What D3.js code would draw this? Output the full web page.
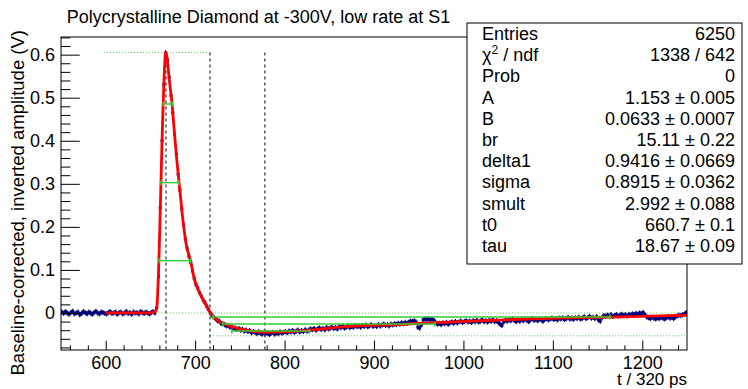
<!DOCTYPE html>
<html><head><meta charset="utf-8">
<script src="https://cdnjs.cloudflare.com/ajax/libs/d3/7.8.5/d3.min.js"></script>
<style>
html,body{margin:0;padding:0;background:#fff;}
svg{display:block;font-family:"Liberation Sans",Arial,Helvetica,sans-serif;}
</style></head><body>
<svg id="c" width="748" height="389"></svg>
<script>
// ---------------- data ----------------
const titleText = "Polycrystalline Diamond at -300V, low rate at S1";
const xTitle = "t / 320 ps";
const yTitle = "Baseline-corrected, inverted amplitude (V)";
const xTicks = [600, 700, 800, 900, 1000, 1100, 1200];
const yTicks = [0, 0.1, 0.2, 0.3, 0.4, 0.5, 0.6];
const binStart = 550, binWidth = 2;
// histogram contents (V), one per 2-unit bin from 550 to 1250
const dataValues = [
  // 551..599
  0.002,-0.001,0.003,0.000,-0.003,0.001,0.004,-0.002,0.000,0.002,-0.004,-0.001,0.003,0.001,-0.002,0.002,0.000,-0.003,0.001,0.004,0.000,-0.002,0.002,0.001,-0.001,
  // 601..655
  -0.002,0.001,0.003,-0.001,0.000,0.002,-0.003,0.001,0.002,-0.002,0.000,0.003,-0.001,0.001,-0.003,0.002,0.000,0.001,-0.002,0.003,0.001,-0.001,0.002,0.000,-0.002,0.001,0.003,0.000,
  // 657..717
  0.012,0.085,0.245,0.400,0.530,0.604,0.588,0.548,0.505,0.465,0.415,0.368,0.322,0.285,0.242,0.205,0.172,0.150,0.132,0.118,0.098,0.080,0.066,0.058,0.047,0.039,0.030,0.024,0.016,0.008,0.000,
  // 719..799
  -0.006,-0.010,-0.014,-0.018,-0.019,-0.024,-0.025,-0.027,-0.030,-0.029,-0.033,-0.032,-0.036,-0.035,-0.038,-0.036,-0.040,-0.038,-0.042,-0.040,-0.043,-0.041,-0.046,-0.043,-0.045,-0.048,-0.044,-0.047,-0.049,-0.045,-0.048,-0.046,-0.050,-0.047,-0.045,-0.049,-0.046,-0.048,-0.044,-0.047,-0.045,
  // 801..899
  -0.043,-0.046,-0.042,-0.044,-0.041,-0.045,-0.042,-0.040,-0.044,-0.041,-0.043,-0.039,-0.042,-0.040,-0.037,-0.039,-0.036,-0.040,-0.037,-0.035,-0.038,-0.036,-0.039,-0.034,-0.037,-0.035,-0.033,-0.036,-0.034,-0.037,-0.032,-0.034,-0.031,-0.035,-0.033,-0.030,-0.034,-0.031,-0.033,-0.029,-0.032,-0.030,-0.033,-0.029,-0.031,-0.028,-0.032,-0.030,-0.027,-0.031,
  // 901..999
  -0.029,-0.031,-0.027,-0.030,-0.028,-0.026,-0.029,-0.027,-0.030,-0.026,-0.028,-0.025,-0.027,-0.024,-0.026,-0.023,-0.025,-0.022,-0.024,-0.021,-0.019,-0.020,-0.018,-0.021,-0.033,-0.035,-0.028,-0.016,-0.014,-0.015,-0.013,-0.016,-0.014,-0.017,-0.022,-0.026,-0.024,-0.027,-0.023,-0.025,-0.022,-0.026,-0.023,-0.021,-0.024,-0.020,-0.023,-0.021,-0.019,-0.022,
  // 1001..1099
  -0.020,-0.018,-0.021,-0.019,-0.022,-0.018,-0.020,-0.017,-0.021,-0.019,-0.016,-0.020,-0.018,-0.021,-0.017,-0.019,-0.016,-0.020,-0.018,-0.022,-0.026,-0.029,-0.021,-0.017,-0.019,-0.016,-0.018,-0.014,-0.017,-0.020,-0.016,-0.019,-0.015,-0.018,-0.014,-0.017,-0.020,-0.016,-0.013,-0.017,-0.015,-0.018,-0.014,-0.016,-0.019,-0.015,-0.013,-0.016,-0.014,-0.012,
  // 1101..1199
  -0.015,-0.013,-0.016,-0.012,-0.014,-0.011,-0.015,-0.013,-0.010,-0.014,-0.012,-0.015,-0.011,-0.013,-0.010,-0.014,-0.012,-0.009,-0.013,-0.011,-0.008,-0.012,-0.010,-0.013,-0.009,-0.016,-0.019,-0.011,-0.006,-0.008,-0.005,-0.007,-0.004,-0.008,-0.006,-0.004,-0.007,-0.005,-0.003,-0.006,-0.004,-0.007,-0.003,-0.005,-0.002,-0.004,-0.001,-0.003,0.000,-0.002,
  // 1201..1249
  0.001,-0.004,-0.009,-0.011,-0.013,-0.010,-0.012,-0.014,-0.011,-0.013,-0.010,-0.012,-0.014,-0.011,-0.009,-0.012,-0.010,-0.013,-0.009,-0.007,-0.005,-0.006,-0.004,-0.003,0.001
];
const dataError = 0.006;
// fitted function, sampled
const fitX = [600,650,655,657,658,659,660,661,662,663,664,665,666,667,668,669,670,672,674,676,678,680,682,684,686,688,690,692,695,699,703,706,710,713,717,721,725,730,736,743,750,760,770,780,800,828,850,884,926,970,1022,1060,1105,1178,1250];
const fitY = [0.000,0.000,0.003,0.010,0.040,0.090,0.160,0.240,0.320,0.400,0.470,0.530,0.580,0.605,0.600,0.585,0.565,0.525,0.490,0.440,0.390,0.345,0.303,0.262,0.222,0.188,0.160,0.142,0.120,0.080,0.055,0.042,0.027,0.015,0.000,-0.010,-0.017,-0.023,-0.028,-0.033,-0.037,-0.041,-0.044,-0.045,-0.044,-0.040,-0.035,-0.030,-0.027,-0.022,-0.018,-0.015,-0.012,-0.009,-0.005];
// width markers (level, left, right)
const widthLevel = [0.4855, 0.3027, 0.1215, -0.0093, -0.0256, -0.042];
const widthLeft  = [664.4, 661.8, 659.6, 720, 731, 741];
const widthRight = [674.5, 682.0, 695.0, 1164, 968, 828];
// vertical dashed markers
const markerX = [667.4, 716.6, 778];
const markerTop = 0.605;
// dotted reference levels (level, from, to)
const refLevel = [0.605, 0.0, -0.053];
const refFrom  = [598, 598, 716.6];
const refTo    = [716.6, 1250, 1250];
// stats box
const statNames = ["Entries", "χ2 / ndf", "Prob", "A", "B", "br", "delta1", "sigma", "smult", "t0", "tau"];
const statValues = ["6250", "1338 / 642", "0", "1.153 ± 0.005", "0.0633 ± 0.0007", "15.11 ± 0.22", "0.9416 ± 0.0669", "0.8915 ± 0.0362", "2.992 ± 0.088", "660.7 ± 0.1", "18.67 ± 0.09"];

// ---------------- drawing ----------------
const svg = d3.select("#c");
const L = 61, R = 687, T = 37, B = 350;
const x = d3.scaleLinear().domain([550, 1250]).range([L, R]);
const y = d3.scaleLinear().domain([-0.086, 0.641]).range([B, T]);

svg.append("rect").attr("width", 748).attr("height", 389).attr("fill", "#fff");

svg.append("clipPath").attr("id", "pc").append("rect")
  .attr("x", L).attr("y", T).attr("width", R - L).attr("height", B - T);
const plot = svg.append("g").attr("clip-path", "url(#pc)");

// dotted reference lines
refLevel.forEach((lv, i) => {
  plot.append("line").attr("x1", x(refFrom[i])).attr("x2", x(refTo[i]))
    .attr("y1", y(lv)).attr("y2", y(lv))
    .attr("stroke", "#55dd55").attr("stroke-width", 1).attr("stroke-dasharray", "1,2");
});
// dashed vertical markers
markerX.forEach(m => {
  plot.append("line").attr("x1", x(m)).attr("x2", x(m))
    .attr("y1", y(markerTop)).attr("y2", B)
    .attr("stroke", "#000").attr("stroke-width", 1).attr("stroke-dasharray", "3,3");
});

// histogram points with error bars
const pts = dataValues.map((v, i) => ({c: binStart + binWidth * (i + 0.5), v}));
const hg = plot.append("g").attr("stroke", "#00007a").attr("stroke-width", 1.2);
hg.selectAll("line.v").data(pts).enter().append("line")
  .attr("x1", d => x(d.c)).attr("x2", d => x(d.c))
  .attr("y1", d => y(d.v - dataError)).attr("y2", d => y(d.v + dataError));
hg.selectAll("line.h").data(pts).enter().append("line")
  .attr("x1", d => x(d.c - binWidth / 2)).attr("x2", d => x(d.c + binWidth / 2))
  .attr("y1", d => y(d.v)).attr("y2", d => y(d.v));
plot.append("g").selectAll("rect").data(pts).enter().append("rect")
  .attr("x", d => x(d.c) - 1.5).attr("y", d => y(d.v) - 1.5).attr("width", 3).attr("height", 3)
  .attr("fill", "#00007a");

// fit line
const fitPts = fitX.map((t, i) => [t, fitY[i]]);
plot.append("path").datum(fitPts)
  .attr("d", d3.line().x(d => x(d[0])).y(d => y(d[1])).curve(d3.curveMonotoneX))
  .attr("fill", "none").attr("stroke", "#ff0000").attr("stroke-width", 2.8)
  .attr("stroke-linejoin", "round");

// width markers
widthLevel.forEach((lv, i) => {
  const g = plot.append("g").attr("stroke", "#33cc33").attr("stroke-width", 1.5);
  g.append("line").attr("x1", x(widthLeft[i])).attr("x2", x(widthRight[i]))
    .attr("y1", y(lv)).attr("y2", y(lv));
  [widthLeft[i], widthRight[i]].forEach(e => {
    g.append("line").attr("x1", x(e)).attr("x2", x(e))
      .attr("y1", y(lv) - 2.5).attr("y2", y(lv) + 2.5);
  });
});

// axes
const fs = 18;
const xAxis = d3.axisBottom(x).tickValues(xTicks).tickSizeInner(-9.4).tickSizeOuter(0).tickPadding(6)
  .tickFormat(d3.format("d"));
svg.append("g").attr("transform", `translate(0,${B})`).call(xAxis);
const xMinor = d3.range(560, 1250, 20).filter(v => v % 100 !== 0);
svg.append("g").attr("transform", `translate(0,${B})`)
  .call(d3.axisBottom(x).tickValues(xMinor).tickSizeInner(-4.7).tickSizeOuter(0).tickFormat(""));
const yAxis = d3.axisLeft(y).tickValues(yTicks).tickSizeInner(-18.8).tickSizeOuter(0).tickPadding(6)
  .tickFormat(d => d === 0 ? "0" : d3.format(".1f")(d));
svg.append("g").attr("transform", `translate(${L},0)`).call(yAxis);
const yMinor = d3.range(-8, 65, 2).filter(v => v % 10 !== 0).map(v => v / 100);
svg.append("g").attr("transform", `translate(${L},0)`)
  .call(d3.axisLeft(y).tickValues(yMinor).tickSizeInner(-9.4).tickSizeOuter(0).tickFormat(""));
svg.selectAll(".domain").remove();
svg.selectAll(".tick line").attr("stroke", "#000");
svg.selectAll(".tick text").attr("font-size", fs).attr("fill", "#000")
  .attr("font-family", "Liberation Sans, Arial, sans-serif");

// frame
svg.append("rect").attr("x", L).attr("y", T).attr("width", R - L).attr("height", B - T)
  .attr("fill", "none").attr("stroke", "#000").attr("stroke-width", 1);

// titles
svg.append("text").attr("x", 258.5).attr("y", 23).attr("text-anchor", "middle")
  .attr("font-size", 18).text(titleText);
svg.append("text").attr("x", R).attr("y", 384.5).attr("text-anchor", "end")
  .attr("font-size", 17).text(xTitle);
svg.append("text").attr("transform", `translate(24,${T - 7}) rotate(-90)`)
  .attr("text-anchor", "end").attr("font-size", 18.5).text(yTitle);

// stats box
const bx = 467, by = 23, bw = 275, bh = 241;
svg.append("rect").attr("x", bx).attr("y", by).attr("width", bw).attr("height", bh)
  .attr("fill", "#fff").attr("stroke", "#000").attr("stroke-width", 1);
const rowH = 21.2, row0 = 40;
statNames.forEach((n, i) => {
  const t = svg.append("text").attr("x", 482).attr("y", row0 + i * rowH).attr("font-size", fs);
  if (n.startsWith("χ2")) {
    t.append("tspan").text("χ");
    t.append("tspan").attr("font-size", 12).attr("dy", -7).text("2");
    t.append("tspan").attr("dy", 7).text(" / ndf");
  } else t.text(n);
  svg.append("text").attr("x", 735).attr("y", row0 + i * rowH).attr("text-anchor", "end")
    .attr("font-size", fs).text(statValues[i]);
});
</script>
</body></html>
